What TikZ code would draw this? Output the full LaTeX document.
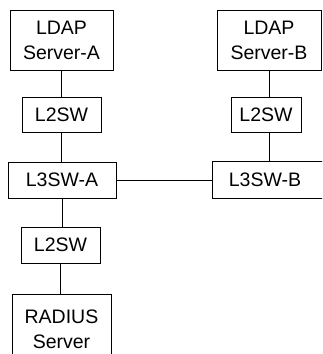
\documentclass[tikz,border=0pt]{standalone}
\usepackage{fontspec}
\setmainfont{Liberation Sans}
\usetikzlibrary{calc}
\begin{document}
\begin{tikzpicture}[x=1pt,y=-1pt,
  box/.style={draw=black, line width=0.9pt, inner sep=0pt, align=center,
    font=\fontsize{19.5}{25}\selectfont},
  link/.style={draw=black, line width=0.9pt}]
\useasboundingbox (0,0) rectangle (322,354);
\clip (0,0) rectangle (322,354);
\node[box, minimum width=103, minimum height=60] (ldapA) at (61.5,40) {LDAP\\Server-A};
\node[box, minimum width=79, minimum height=35] (l2a) at (61.5,114.5) {L2SW};
\node[box, minimum width=108, minimum height=36] (l3a) at (62,180) {L3SW-A};
\node[box, minimum width=79, minimum height=36] (l2c) at (60.5,245) {L2SW};
\node[box, minimum width=99, minimum height=70] (rad) at (61.5,329) {RADIUS\\Server};
\node[box, minimum width=104, minimum height=60] (ldapB) at (269,40) {LDAP\\Server-B};
\node[box, minimum width=70, minimum height=35] (l2b) at (266,114.5) {L2SW};
\node[box, draw=none, minimum width=104, minimum height=36] (l3b) at (265,180) {L3SW-B};
\draw[link] ($(l3b.north east)+(20,0)$) -- (l3b.north west) -- (l3b.south west) -- ($(l3b.south east)+(20,0)$);
\draw[link] (ldapA.south) -- (l2a.north);
\draw[link] (l2a.south) -- (l2a.south |- l3a.north);
\draw[link] (l3a.south) -- (l3a.south |- l2c.north);
\draw[link] (l2c.south) -- (l2c.south |- rad.north);
\draw[link] (ldapB.south) -- (ldapB.south |- l2b.north);
\draw[link] (ldapB.south |- l2b.south) -- (ldapB.south |- l3b.north);
\draw[link] (l3a.east) -- (l3b.west);
\end{tikzpicture}
\end{document}
